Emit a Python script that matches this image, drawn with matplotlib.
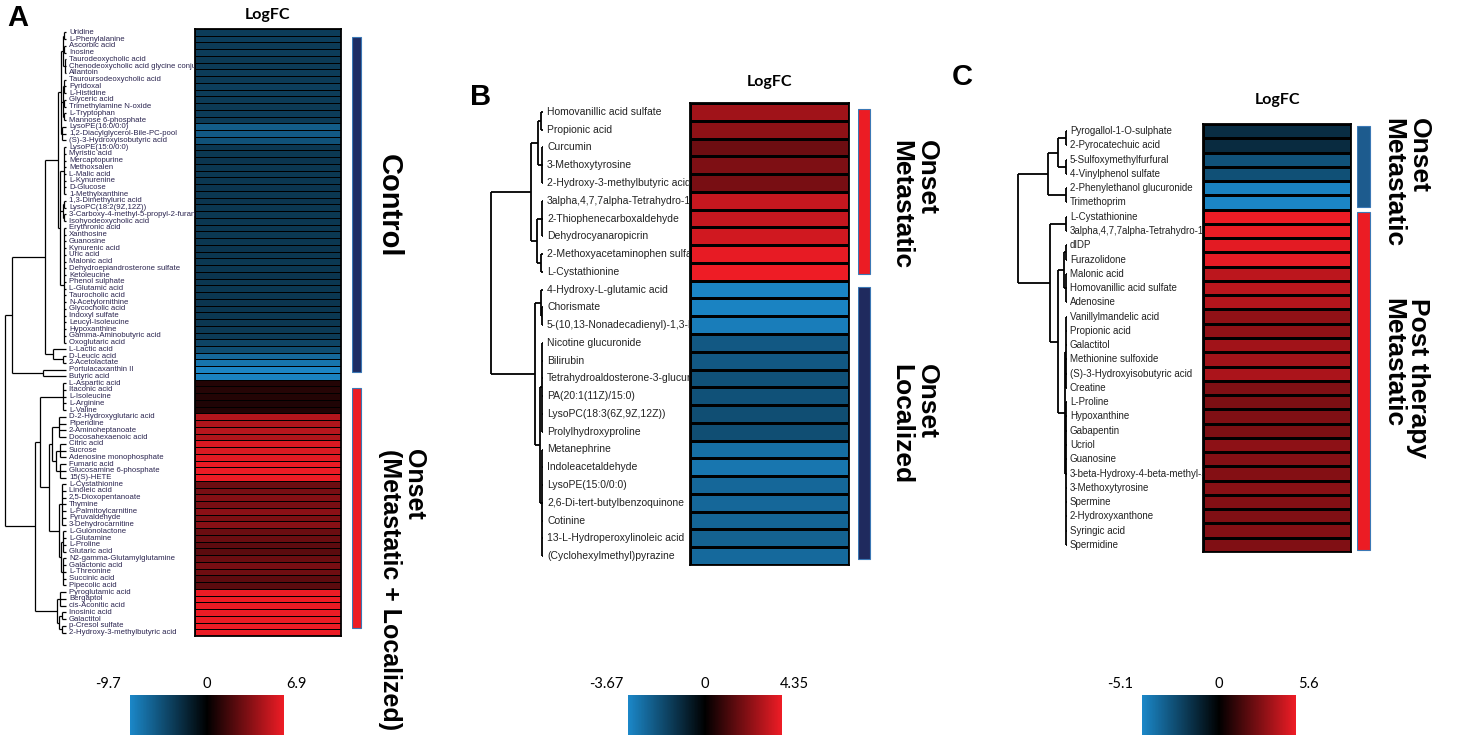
import matplotlib; matplotlib.use("Agg")
import matplotlib.pyplot as plt
import numpy as np
from matplotlib.colors import LinearSegmentedColormap, TwoSlopeNorm
from matplotlib.cm import ScalarMappable

plt.rcParams["font.family"] = ["Liberation Sans", "DejaVu Sans"]

W, H = 1459, 735
CMAP = LinearSegmentedColormap.from_list("bkr", ["#1b87c8", "#000000", "#ee1c25"])
RED = "#ec1c24"

# ---------------- panel A ----------------
A_NAMES = ["Uridine", "L-Phenylalanine", "Ascorbic acid", "Inosine", "Taurodeoxycholic acid",
           "Chenodeoxycholic acid glycine conjugate", "Allantoin", "Tauroursodeoxycholic acid",
           "Pyridoxal", "L-Histidine", "Glyceric acid", "Trimethylamine N-oxide", "L-Tryptophan",
           "Mannose 6-phosphate", "LysoPE(16:0/0:0)", "1,2-Diacylglycerol-Bile-PC-pool",
           "(S)-3-Hydroxyisobutyric acid", "LysoPE(15:0/0:0)", "Myristic acid", "Mercaptopurine",
           "Methoxsalen", "L-Malic acid", "L-Kynurenine", "D-Glucose", "1-Methylxanthine",
           "1,3-Dimethyluric acid", "LysoPC(18:2(9Z,12Z))", "3-Carboxy-4-methyl-5-propyl-2-furanpropanoic acid",
           "Isohyodeoxycholic acid", "Erythronic acid", "Xanthosine", "Guanosine", "Kynurenic acid",
           "Uric acid", "Malonic acid", "Dehydroepiandrosterone sulfate", "Ketoleucine",
           "Phenol sulphate", "L-Glutamic acid", "Taurocholic acid", "N-Acetylornithine",
           "Glycocholic acid", "Indoxyl sulfate", "Leucyl-Isoleucine", "Hypoxanthine",
           "Gamma-Aminobutyric acid", "Oxoglutaric acid", "L-Lactic acid", "D-Leucic acid",
           "2-Acetolactate", "Portulacaxanthin II", "Butyric acid",
           "L-Aspartic acid", "Itaconic acid", "L-Isoleucine", "L-Arginine", "L-Valine",
           "D-2-Hydroxyglutaric acid", "Piperidine", "2-Aminoheptanoate", "Docosahexaenoic acid",
           "Citric acid", "Sucrose", "Adenosine monophosphate", "Fumaric acid",
           "Glucosamine 6-phosphate", "15(S)-HETE", "L-Cystathionine", "Linoleic acid",
           "2,5-Dioxopentanoate", "Thymine", "L-Palmitoylcarnitine", "Pyruvaldehyde",
           "3-Dehydrocarnitine", "L-Gulonolactone", "L-Glutamine", "L-Proline", "Glutaric acid",
           "N2-gamma-Glutamylglutamine", "Galactonic acid", "L-Threonine", "Succinic acid",
           "Pipecolic acid", "Pyroglutamic acid", "Bergaptol", "cis-Aconitic acid", "Inosinic acid",
           "Galactitol", "p-Cresol sulfate", "2-Hydroxy-3-methylbutyric acid"]
A_LOGFC = [-4.3, -4.4, -4.2, -4.3, -4.1, -4.2, -4.3, -4.2, -4.4, -4.3, -4.2, -4.1, -4.3, -4.2,
           -6.6, -6.4, -5.8,
           -3.9, -4.0, -3.8, -3.9, -4.0, -3.9, -3.8, -3.9, -3.8, -3.9, -4.0, -3.9, -3.9, -4.0,
           -3.9, -3.8, -3.9, -4.0, -3.9, -3.8, -3.9, -4.0, -3.9, -3.8, -3.9, -4.0, -3.9, -4.1, -4.2,
           -4.9, -5.5, -7.5, -8.4, -9.5, -9.3,
           1.0, 1.1, 1.0, 0.9, 1.0,
           5.2, 5.1, 5.3, 5.1,
           6.2, 6.3, 6.5, 6.7, 6.8, 6.8,
           3.1, 3.5, 3.8, 3.5, 4.0, 3.6, 3.9, 3.1, 3.1, 2.7, 2.6, 3.1, 3.5, 3.2, 2.7, 2.6,
           6.8, 6.9, 6.7, 6.8, 6.8, 6.9, 6.8]
A_RANGE = (-9.7, 6.9)
A_GROUPS = ["Control", "Onset\n(Metastatic + Localized)"]
A_SIZES = [52, 38]
A_GCOLORS = ["#1e2d64", RED]
# tree: [merge height, children...], leaves are row indices
A_TREE = [61,
          [54,
           [21,
            [8,
             [5, [3, [2, 0, 1], [2, 2, 3], [1, 4, 5, 6]],
                 [3, [2, 7, 8, 9], [2, 10, 11], [2, 12, 13]],
                 [4, 14, 15, 16]],
             [6, [2, 17, 18, 19, 20, 21, 22, 23, 24],
                 [3, [2, 25, 26], [2, 27, 28]],
                 [2] + list(range(29, 47))]],
            [13, 47, [3, 48, 49]]],
           [23, 50, 51]],
          [31,
           [26, [3, 52, 53, 54, 55, 56],
            [17,
             [14, [7, 57, 58, 59, 60], [10, [6, 61, 62, 63], [6, 64, 65, 66]]],
             [7, [4, 67, 68, 69, 70, 71, 72, 73], [5, [3, 74, 75, 76, 77], [3, 78, 79, 80, 81, 82]]]]],
           [9, [6, 83, 84, 85], [7, [4, 86, 87], [4, 88, 89]]]]]

# ---------------- panel B ----------------
B_NAMES = ["Homovanillic acid sulfate", "Propionic acid", "Curcumin", "3-Methoxytyrosine",
           "2-Hydroxy-3-methylbutyric acid", "3alpha,4,7,7alpha-Tetrahydro-1,3-isobenzofurandione",
           "2-Thiophenecarboxaldehyde", "Dehydrocyanaropicrin", "2-Methoxyacetaminophen sulfate",
           "L-Cystathionine", "4-Hydroxy-L-glutamic acid", "Chorismate",
           "5-(10,13-Nonadecadienyl)-1,3-benzenediol", "Nicotine glucuronide", "Bilirubin",
           "Tetrahydroaldosterone-3-glucuronide", "PA(20:1(11Z)/15:0)", "LysoPC(18:3(6Z,9Z,12Z))",
           "Prolylhydroxyproline", "Metanephrine", "Indoleacetaldehyde", "LysoPE(15:0/0:0)",
           "2,6-Di-tert-butylbenzoquinone", "Cotinine", "13-L-Hydroperoxylinoleic acid",
           "(Cyclohexylmethyl)pyrazine"]
B_LOGFC = [2.9, 2.6, 2.0, 2.3, 2.2, 3.6, 3.6, 3.8, 4.2, 4.35,
           -3.6, -3.55, -3.4, -2.4, -2.4, -2.2, -2.2, -2.1, -2.1,
           -3.0, -3.2, -2.8, -2.8, -2.75, -2.65, -2.85]
B_RANGE = (-3.67, 4.35)
B_GROUPS = ["Onset\nMetastatic", "Onset\nLocalized"]
B_SIZES = [10, 16]
B_GCOLORS = [RED, "#1f2a5e"]
B_TREE = [52,
          [12, [5, [2, 0, 1], [1, 2, 3, 4]], [6, [1, 5, 6, 7], [2, 8, 9]]],
          [8, [2, 10, [1, 11, 12]],
              [3, [1.5, 13, 14, 15, 16, 17, 18], [1, 19, 20, 21, 22, 23, 24, 25]]]]

# ---------------- panel C ----------------
C_NAMES = ["Pyrogallol-1-O-sulphate", "2-Pyrocatechuic acid", "5-Sulfoxymethylfurfural",
           "4-Vinylphenol sulfate", "2-Phenylethanol glucuronide", "Trimethoprim",
           "L-Cystathionine", "3alpha,4,7,7alpha-Tetrahydro-1,3-isobenzofurandione", "dIDP",
           "Furazolidone", "Malonic acid", "Homovanillic acid sulfate", "Adenosine",
           "Vanillylmandelic acid", "Propionic acid", "Galactitol", "Methionine sulfoxide",
           "(S)-3-Hydroxyisobutyric acid", "Creatine", "L-Proline", "Hypoxanthine", "Gabapentin",
           "Ucriol", "Guanosine", "3-beta-Hydroxy-4-beta-methyl-5-alpha-cholest-7-ene",
           "3-Methoxytyrosine", "Spermine", "2-Hydroxyxanthone", "Syringic acid", "Spermidine"]
C_LOGFC = [-1.7, -1.6, -3.1, -3.0, -4.9, -5.0,
           5.6, 5.5, 5.3, 5.4, 4.4, 4.4, 4.2, 3.4, 3.4, 3.8, 3.8, 4.0,
           3.0, 2.9, 3.0, 2.9, 3.3, 3.1, 3.1, 3.2, 3.1, 3.0, 3.1, 3.0]
C_RANGE = (-5.1, 5.6)
C_GROUPS = ["Onset\nMetastatic", "Post therapy\nMetastatic"]
C_SIZES = [6, 24]
C_GCOLORS = ["#1d5b8e", RED]
C_TREE = [49,
          [19, [9, [1, 0, 1], [1, 2, 3]], [1, 4, 5]],
          [17, [1, 6, 7],
               [9, [3, [1, 8, 9], [1, 10, 11, 12]],
                   [2, [1, 13, 14, 15, 16, 17, 18], [1] + list(range(19, 30))]]]]

fig = plt.figure(figsize=(W / 100, H / 100), dpi=100)
fig.patch.set_facecolor("white")


def px_axes(x0, y0, x1, y1):
    return fig.add_axes([x0 / W, 1 - y1 / H, (x1 - x0) / W, (y1 - y0) / H])


def draw_tree(ax, node, leaf_x, scale, lw):
    # returns (y, x) of the node
    if not isinstance(node, list):
        return node + 0.5, leaf_x
    xn = leaf_x - node[0] * scale
    kids = [draw_tree(ax, k, leaf_x, scale, lw) for k in node[1:]]
    ys = [k[0] for k in kids]
    for yk, xk in kids:
        ax.plot([xk, xn], [yk, yk], color="black", lw=lw, solid_capstyle="butt")
    ax.plot([xn, xn], [min(ys), max(ys)], color="black", lw=lw, solid_capstyle="butt")
    return (min(ys) + max(ys)) / 2, xn


def panel(letter, names, vals, vrange, tree, groups, sizes, gcolors, L):
    n = len(names)
    norm = TwoSlopeNorm(vmin=vrange[0], vcenter=0, vmax=vrange[1])
    hx0, hy0, hx1, hy1 = L["heat"]

    hm = px_axes(hx0, hy0, hx1, hy1)
    hm.pcolormesh(np.array(vals).reshape(-1, 1), cmap=CMAP, norm=norm,
                  edgecolors="black", linewidth=L["grid"])
    hm.set_ylim(n, 0); hm.set_xlim(0, 1)
    hm.set_xticks([]); hm.set_yticks([])
    for s in hm.spines.values():
        s.set_linewidth(1.3)
    fig.text((hx0 + hx1) / 2 / W, 1 - L["title_y"] / H, "LogFC", ha="center", va="center",
             fontsize=11.5, fontweight="bold", family=["Lato", "DejaVu Sans"])
    fig.text(L["letter"][0] / W, 1 - L["letter"][1] / H, letter, ha="center", va="center",
             fontsize=21, fontweight="bold")

    # dendrogram + row labels (clipped at heatmap edge)
    tr = px_axes(L["tree_x0"], hy0, hx0, hy1)
    tr.set_xlim(L["tree_x0"], hx0); tr.set_ylim(n, 0); tr.axis("off")
    draw_tree(tr, tree, L["leaf_x"], 1.0, L["tree_lw"])
    for i, nm in enumerate(names):
        tr.text(L["leaf_x"] + L["lab_dx"], i + 0.5, nm, fontsize=L["fs"], ha="left", va="center",
                color=L["lab_color"], clip_on=True)

    # group bars + labels
    gx0, gx1 = L["gbar"]
    ga = px_axes(gx0, hy0, gx0 + 90, hy1)
    ga.set_xlim(0, 90); ga.set_ylim(n, 0); ga.axis("off")
    starts = np.cumsum([0] + sizes[:-1])
    pad = L["gpad"]
    ga.bar(0, np.array(sizes) - 2 * pad, bottom=starts + pad, width=gx1 - gx0, align="edge",
           color=gcolors, edgecolor="#3b78b5", linewidth=0.8)
    for g, (cx, cy), fs in zip(groups, L["gtext"], L["gfs"]):
        fig.text(cx / W, 1 - cy / H, g, rotation=-90, ha="center", va="center",
                 multialignment="left", fontsize=fs, fontweight="bold", linespacing=1.05)

    # colour bar
    cx0, cy0, cx1, cy1 = L["cbar"]
    cax = px_axes(cx0, cy0, cx1, cy1)
    cb = fig.colorbar(ScalarMappable(norm=norm, cmap=CMAP), cax=cax, orientation="horizontal")
    cb.set_ticks([]); cb.outline.set_visible(False)
    ty = 1 - L["cbar_lab_y"] / H
    for v, x in zip([vrange[0], 0, vrange[1]], [cx0 - 22, (cx0 + cx1) / 2, cx1 + 12]):
        fig.text(x / W, ty, f"{v:g}", ha="center", va="center", fontsize=10.5,
                 family=["Lato", "DejaVu Sans"])


panel("A", A_NAMES, A_LOGFC, A_RANGE, A_TREE, A_GROUPS, A_SIZES, A_GCOLORS,
      dict(heat=(195, 29, 341, 636), title_y=15, letter=(18, 18), tree_x0=0, leaf_x=66,
           lab_dx=3, fs=5.6, lab_color="#2b2550", tree_lw=0.9, grid=0.6,
           gbar=(352, 361), gpad=1.2, gtext=[(389, 206), (402, 590)], gfs=[21, 18],
           cbar=(130, 695, 284, 736), cbar_lab_y=684))
panel("B", B_NAMES, B_LOGFC, B_RANGE, B_TREE, B_GROUPS, B_SIZES, B_GCOLORS,
      dict(heat=(690, 103, 849, 565), title_y=82, letter=(481, 97), tree_x0=480, leaf_x=543,
           lab_dx=4, fs=7.5, lab_color="#222222", tree_lw=1.3, grid=1.0,
           gbar=(858, 870), gpad=0.35, gtext=[(914, 205), (914, 424)], gfs=[19, 19],
           cbar=(628, 695, 782, 736), cbar_lab_y=684))
panel("C", C_NAMES, C_LOGFC, C_RANGE, C_TREE, C_GROUPS, C_SIZES, C_GCOLORS,
      dict(heat=(1203, 124, 1351, 552), title_y=100, letter=(962, 77), tree_x0=1000, leaf_x=1067,
           lab_dx=3, fs=7.0, lab_color="#222222", tree_lw=1.3, grid=1.0,
           gbar=(1357, 1370), gpad=0.15, gtext=[(1406, 183), (1406, 378)], gfs=[19, 19],
           cbar=(1142, 695, 1296, 736), cbar_lab_y=684))

fig.savefig("out.png", dpi=100, facecolor="white")
